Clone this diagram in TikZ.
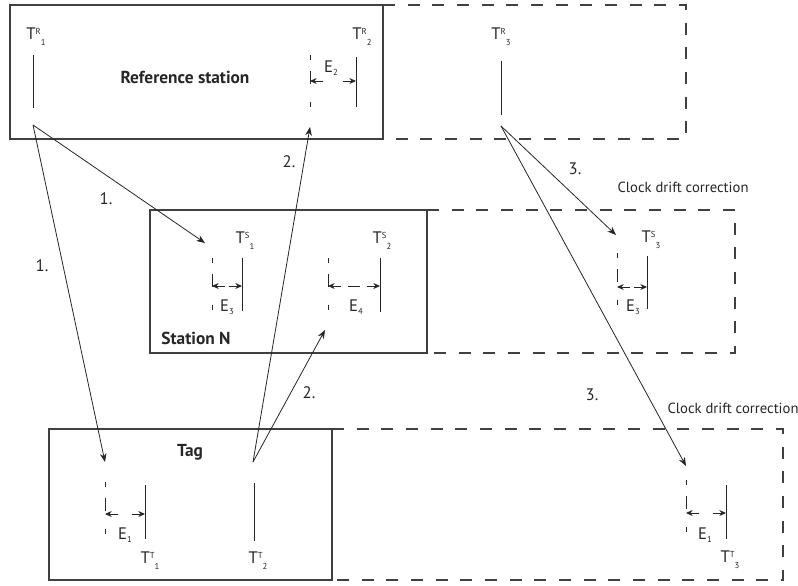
\documentclass[tikz,border=0pt]{standalone}
\usepackage{fontspec}
\setmainfont{PT Sans}
\usepackage{tikz}
\usetikzlibrary{arrows.meta,positioning,calc}

\newcommand{\smallfig}[1]{{\fontsize{6.5}{7}\selectfont #1}}
\newcommand{\stampT}[2]{T\raisebox{4.2pt}{\smallfig{#1}}\raisebox{-4.5pt}{\smallfig{#2}}}
\newcommand{\errE}[1]{E\raisebox{-2pt}{\smallfig{#1}}}

\begin{document}
\begin{tikzpicture}[
    x=0.75pt, y=-0.75pt,
    station/.style={draw=black!75, line width=0.8pt},
    extension/.style={draw=black!75, line width=0.8pt, dash pattern=on 9pt off 9.5pt},
    title/.style={font=\fontsize{13}{15}\selectfont\bfseries, text=black!85, inner sep=0pt},
    stamp/.style={font=\fontsize{12.5}{14}\selectfont, text=black!85, inner sep=0pt},
    msgnum/.style={font=\fontsize{12.5}{14}\selectfont, text=black!85, inner sep=0pt},
    note/.style={font=\fontsize{11}{13}\selectfont, text=black!85, inner sep=0pt},
    tick/.style={draw=black!85, line width=0.75pt},
    offset/.style={draw=black!85, line width=0.75pt, dash pattern=on 4pt off 8pt on 10pt off 13pt},
    gaptip/.style={-{Stealth[length=5pt, width=4.5pt]}, draw=black!85, line width=0.7pt},
    arrow/.style={-{Stealth[length=6.5pt, width=5pt]}, draw=black!85, line width=0.6pt}
]
\useasboundingbox (0,0) rectangle (798,585);

% Reference station
\draw [station] (10,5) coordinate (refnw) rectangle (383,139) coordinate (refse);
\coordinate (refend) at (686,72);
\draw [extension] (refse |- refnw) -| (refend) |- (refse);
\node (reftitle) [title] at (185,77) {Reference station};

% Station N
\draw [station] (150,210) coordinate (stnnw) rectangle (427,353) coordinate (stnse);
\coordinate (stnend) at (735,280);
\draw [extension] (stnse |- stnnw) -| (stnend) |- (stnse);
\node (stntitle) [title] at (196,338) {Station N};

% Tag
\draw [station] (49,429) coordinate (tagnw) rectangle (332,580) coordinate (tagse);
\coordinate (tagend) at (783,500);
\draw [extension] (tagse |- tagnw) -| (tagend) |- (tagse);
\node (tagtitle) [title] at (190,452) {Tag};

% Time stamps
\foreach \n/\x/\ya/\yb in {r1/33/55/108, r2/356/57/107, r3/501/61/115,
    s1/242/258/311, s2/380/258/312, s3/647/256/309,
    t1/145/485/539, t2/254/483/541, t3/726/485/539}
    \draw [tick] (\x,\ya) coordinate (top\n) -- (\x,\yb) coordinate (bot\n);

% Offsets
\foreach \n/\x/\ya/\ym/\yb in {e2/310/55/81/108, e3/212/258/286/311, e4/328/258/286/312,
    e3r/617/253/287/310, e1/105/482/514/540, e1r/686/480/513/540}
{
    \draw [offset] (\x,\ya) -- (\x,\yb);
    \coordinate (\n) at (\x,\ym);
}
\foreach \a/\b in {e2/topr2, e3/tops1, e4/tops2, e3r/tops3, e1/topt1, e1r/topt3}
{
    \draw [gaptip] ($(\a)!10pt!(\a -| \b)$) -- (\a);
    \draw [gaptip] ($(\a -| \b)!10pt!(\a)$) -- (\a -| \b);
}
\draw [tick] ($(e4)!15pt!(e4 -| tops2)$) -- ($(e4)!24pt!(e4 -| tops2)$);

% Labels
\node (lr1) [stamp] at (36,37) {\stampT{R}{1}};
\node (lr2) [stamp] at (362,37) {\stampT{R}{2}};
\node (lr3) [stamp] at (501,37) {\stampT{R}{3}};
\node (ls1) [stamp] at (245,241) {\stampT{S}{1}};
\node (ls2) [stamp] at (382,241) {\stampT{S}{2}};
\node (ls3) [stamp] at (651,240) {\stampT{S}{3}};
\node (lt1) [stamp] at (150,561) {\stampT{T}{1}};
\node (lt2) [stamp] at (258,561) {\stampT{T}{2}};
\node (lt3) [stamp] at (730,560) {\stampT{T}{3}};
\node (le2) [stamp] at (331,68) {\errE{2}};
\node (le3) [stamp] at (227,307) {\errE{3}};
\node (le4) [stamp] at (356,307) {\errE{4}};
\node (le3r) [stamp] at (633,307) {\errE{3}};
\node (le1) [stamp] at (125,535) {\errE{1}};
\node (le1r) [stamp] at (705,535) {\errE{1}};

% Message ends
\coordinate (r1out) at (33,125);
\coordinate (r3out) at (501,126);
\coordinate (t2out) at (253,462);
\coordinate (s1in) at (205,243);
\coordinate (s2in) at (325,330);
\coordinate (s3in) at (616,235);
\coordinate (r2in) at (310,127);
\coordinate (t1in) at (105,462);
\coordinate (t3in) at (686,466);

% Messages
\draw [arrow] (r1out) -- (s1in);
\draw [arrow] (r1out) -- (t1in);
\draw [arrow] (t2out) -- (r2in);
\draw [arrow] (t2out) -- (s2in);
\draw [arrow] (r3out) -- (s3in);
\draw [arrow] (r3out) -- (t3in);

\node (m1a) [msgnum] at (106,199) {1.};
\node (m1b) [msgnum] at (42,266) {1.};
\node (m2a) [msgnum] at (289,162) {2.};
\node (m2b) [msgnum] at (309,393) {2.};
\node (m3a) [msgnum] at (575,169) {3.};
\node (m3b) [msgnum] at (592,395) {3.};
\node (cd1) [note] at (683,187) {Clock drift correction};
\node (cd2) [note] at (733,408) {Clock drift correction};

\end{tikzpicture}
\end{document}
